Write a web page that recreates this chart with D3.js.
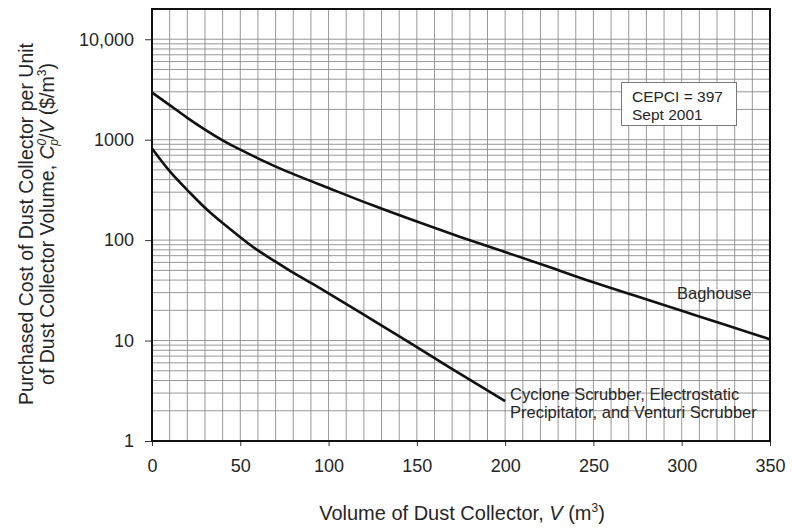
<!DOCTYPE html>
<html><head><meta charset="utf-8">
<script src="https://cdn.jsdelivr.net/npm/d3@7"></script>
<style>
body{margin:0;background:#fff;}
text{font-family:"Liberation Sans",Arial,sans-serif;fill:#262626;}
</style></head>
<body><svg id="c" width="792" height="529"></svg>
<script>
const volume = [0,10,20,30,40,50,60,75,100,125,150,175,200,225,250,275,300,325,350];
const baghouse = [2950,2210,1650,1260,985,795,652,495,330,222,153,107,76,54,38,27.4,19.8,14.3,10.3];
const cycloneV = [0,10,20,30,40,50,60,70,80,90,100,125,150,175,200];
const cyclone = [817,486,315,210,148,107,79,61,47.4,37.5,29.5,16,8.6,4.6,2.5];
const xTicks = [0,50,100,150,200,250,300,350];
const yTicks = [1,10,100,1000,10000];
const yTickLabels = ["1","10","100","1000","10,000"];

const svg = d3.select("#c");
const L=152,R=770,T=9,B=441;
const x = d3.scaleLinear().domain([0,350]).range([L,R]);
const y = d3.scaleLog().domain([1,20000]).range([B,T]);

// grid
const g = svg.append("g");
g.selectAll("line.v").data(d3.range(0,351,10)).join("line")
 .attr("x1",d=>x(d)).attr("x2",d=>x(d)).attr("y1",T).attr("y2",B)
 .attr("stroke","#8c8c8c").attr("stroke-width",0.9);
const minor=[];
[1,10,100,1000,10000].forEach(dec=>{for(let k=1;k<=9;k++){const v=dec*k; if(v<=20000) minor.push(v);}});
minor.push(20000);
g.selectAll("line.h").data(minor).join("line")
 .attr("x1",L).attr("x2",R).attr("y1",d=>y(d)).attr("y2",d=>y(d))
 .attr("stroke","#8c8c8c").attr("stroke-width",0.9);

// axes
const ax = svg.append("g").attr("transform",`translate(0,${B})`)
 .call(d3.axisBottom(x).tickValues(xTicks).tickSize(5).tickPadding(13));
ax.select(".domain").remove();
ax.selectAll("text").attr("font-size",18).attr("fill","#262626").style("font-family","Liberation Sans, Arial");
ax.selectAll("line").attr("stroke","#333");
const ay = svg.append("g").attr("transform",`translate(${L},0)`)
 .call(d3.axisLeft(y).tickValues(yTicks).tickFormat((d,i)=>yTickLabels[i]).tickSize(7).tickPadding(11));
ay.select(".domain").remove();
ay.selectAll("text").attr("font-size",18).attr("fill","#262626").style("font-family","Liberation Sans, Arial");
ay.selectAll("line").attr("stroke","#333");

// border
svg.append("rect").attr("x",L).attr("y",T).attr("width",R-L).attr("height",B-T)
 .attr("fill","none").attr("stroke","#111").attr("stroke-width",2);

// curves
const line = d3.line().curve(d3.curveNatural);
svg.append("path").attr("d",line(volume.map((v,i)=>[x(v),y(baghouse[i])])))
 .attr("fill","none").attr("stroke","#111").attr("stroke-width",2.6);
svg.append("path").attr("d",line(cycloneV.map((v,i)=>[x(v),y(cyclone[i])])))
 .attr("fill","none").attr("stroke","#111").attr("stroke-width",2.6);

// curve labels
svg.append("text").attr("x",677).attr("y",299).attr("font-size",16.5).text("Baghouse");
svg.append("text").attr("x",510).attr("y",400).attr("font-size",16.5).text("Cyclone Scrubber, Electrostatic");
svg.append("text").attr("x",510).attr("y",418).attr("font-size",16.5).text("Precipitator, and Venturi Scrubber");

// CEPCI box
svg.append("rect").attr("x",621.5).attr("y",82.5).attr("width",115).attr("height",43)
 .attr("fill","#fff").attr("stroke","#777").attr("stroke-width",1);
svg.append("text").attr("x",632).attr("y",102).attr("font-size",15.5).text("CEPCI = 397");
svg.append("text").attr("x",632).attr("y",120).attr("font-size",15.5).text("Sept 2001");

// x-axis title
const xt = svg.append("text").attr("x",462).attr("y",520).attr("font-size",20).attr("text-anchor","middle");
xt.append("tspan").text("Volume of Dust Collector, ");
xt.append("tspan").attr("font-style","italic").text("V");
xt.append("tspan").text(" (m");
xt.append("tspan").attr("font-size",12).attr("dy",-8).text("3");
xt.append("tspan").attr("dy",8).text(")");

// y-axis title
svg.append("text").attr("transform","translate(33,224) rotate(-90)")
 .attr("font-size",19.5).attr("text-anchor","middle").text("Purchased Cost of Dust Collector per Unit");
const yt2 = svg.append("text").attr("transform","translate(54,224) rotate(-90)")
 .attr("font-size",19.5).attr("text-anchor","middle");
yt2.append("tspan").text("of Dust Collector Volume, ");
yt2.append("tspan").attr("font-style","italic").text("C");
yt2.append("tspan").attr("font-style","italic").attr("font-size",12).attr("dy",-8).text("0");
yt2.append("tspan").attr("font-style","italic").attr("font-size",12).attr("dx",-7).attr("dy",12).text("p");
yt2.append("tspan").attr("dy",-4).text("/");
yt2.append("tspan").attr("font-style","italic").text("V");
yt2.append("tspan").text(" ($/m");
yt2.append("tspan").attr("font-size",12).attr("dy",-8).text("3");
yt2.append("tspan").attr("dy",8).text(")");
</script></body></html>
